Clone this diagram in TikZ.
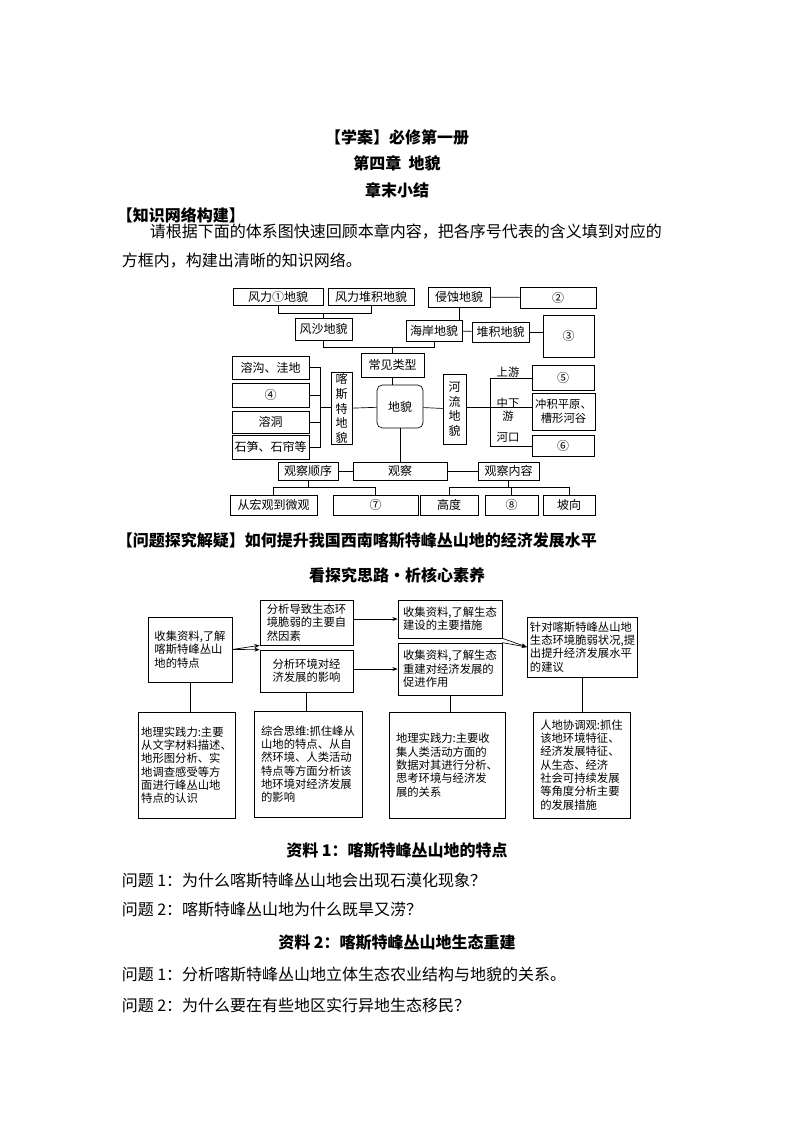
\documentclass[tikz,border=0pt]{standalone}
\usepackage{fontspec}
\setmainfont{Noto Sans CJK SC}
\usetikzlibrary{arrows.meta}
\newcommand\bx[7][]{\node[box,#1,minimum width={(#5-#3)*0.75pt},minimum height={(#6-#4)*0.75pt}] (#2) at ({(#3+#5)/2},{(#4+#6)/2}) {#7};}
\begin{document}
\begin{tikzpicture}[x=0.75pt,y=-0.75pt,
 box/.style={draw,inner sep=1pt,align=center,font=\fontsize{9}{11}\selectfont},
 tb/.style={box,align=left,anchor=center,font=\fontsize{8.5}{10}\selectfont,inner sep=2pt},
 ln/.style={line width=0.5pt},
 ar/.style={ln,-{Stealth[length=4pt,width=3pt]}},
 every node/.append style={line width=0.5pt},
 body/.style={anchor=west,font=\fontsize{12}{14}\selectfont},
 ttl/.style={font=\fontsize{12}{14}\selectfont\bfseries}]
\useasboundingbox (0,0) rectangle (794,1123);
% titles
\node[ttl] (t1) at (397,137) {【学案】必修第一册};
\node[ttl] (t2) at (397,163) {第四章\ \ 地貌};
\node[ttl] (t3) at (397,190) {章末小结};
\node[ttl,anchor=west] (t4) at (112,215) {【知识网络构建】};
\node[body] (p1) at (145,232) {请根据下面的体系图快速回顾本章内容，把各序号代表的含义填到对应的};
\node[body] (p2) at (117,261) {方框内，构建出清晰的知识网络。};
% diagram 1
\bx{f1}{233}{288}{323}{305}{风力①地貌}
\bx{f2}{328}{288}{414}{305}{风力堆积地貌}
\bx{qs}{428}{287}{490}{307}{侵蚀地貌}
\bx{n2}{520}{287}{596}{308}{②}
\bx{fs}{295}{318}{352}{340}{风沙地貌}
\bx{ha}{406}{320}{462}{341}{海岸地貌}
\bx{dj}{472}{322}{529}{342}{堆积地貌}
\bx{n3}{543}{315}{594}{357}{③}
\bx{cj}{361}{353}{424}{377}{常见类型}
\bx[rounded corners=4pt]{dm}{377}{385}{423}{428}{地貌}
\bx{ks}{331}{373}{352}{444}{喀\\斯\\特\\地\\貌}
\bx{hl}{443}{374}{466}{444}{河\\流\\地\\貌}
\bx{rg}{232}{356}{309}{379}{溶沟、洼地}
\bx{n4}{232}{383}{309}{407}{④}
\bx{rd}{232}{411}{309}{433}{溶洞}
\bx{ss}{232}{435}{309}{459}{石笋、石帘等}
\bx{n5}{532}{365}{594}{390}{⑤}
\bx[font=\fontsize{8.5}{10.5}\selectfont]{cp}{532}{393}{595}{430}{冲积平原、\\槽形河谷}
\bx{n6}{532}{435}{594}{456}{⑥}
\bx{gc}{353}{462}{447}{480}{观察}
\bx{gs}{278}{462}{338}{480}{观察顺序}
\bx{gn}{478}{462}{539}{480}{观察内容}
\bx{hg}{230}{495}{317}{515}{从宏观到微观}
\bx{n7}{333}{495}{418}{515}{⑦}
\bx{gd}{420}{495}{478}{515}{高度}
\bx{n8}{485}{495}{538}{515}{⑧}
\bx{px}{543}{495}{595}{515}{坡向}
\draw[ln] (f1.south) -- ++(0,8) -| (f2.south);
\draw[ln] (fs.north) -- ++(0,-5);
\draw[ln] (qs) -- (n2);
\draw[ln] (qs.south) -- (ha.north-|qs.south);
\draw[ln] (ha) -- (dj);
\draw[ln] (dj) -- (dj-|n3.west);
\draw[ln] (fs.south) -- ++(0,7) -| (ha.south);
\draw[ln] (cj.north) -- ++(0,-6);
\draw[ln] (cj.south) -- (dm.north-|cj.south);
\draw[ln] (dm) -- (ks);
\draw[ln] (dm) -- (hl);
\coordinate (lb) at (320,407);
\draw[ln] (ks.west|-lb) -- (lb);
\draw[ln] (rg.east) -| (lb);
\draw[ln] (ss.east) -| (lb);
\draw[ln] (n4.east) -- (n4.east-|lb);
\draw[ln] (rd.east) -- (rd.east-|lb);
\coordinate (rb) at (490,407);
\draw[ln] (hl.east|-rb) -- (rb);
\draw[ln] (rb) |- (532,378);
\draw[ln] (rb) |- (532,446);
\draw[ln] (rb) -- (cp.west|-rb);
\node[font=\fontsize{8.5}{10}\selectfont] (sy) at (508,372) {上游};
\node[font=\fontsize{8.5}{10}\selectfont,align=center] (zx) at (508,410) {中下\\游};
\node[font=\fontsize{8.5}{10}\selectfont] (hk) at (508,437) {河口};
\draw[ln] (dm.south) -- (gc.north-|dm.south);
\draw[ln] (gs) -- (gc);
\draw[ln] (gc) -- (gn);
\draw[ln] (gs.south) -- ++(0,7) coordinate (gsb);
\draw[ln] (hg.north|-gsb) -- (n7.north|-gsb);
\draw[ln] (hg.north|-gsb) -- (hg.north);
\draw[ln] (n7.north|-gsb) -- (n7.north);
\draw[ln] (gn.south) -- ++(0,7) coordinate (gnb);
\draw[ln] (gd.north|-gnb) -- (px.north|-gnb);
\draw[ln] (gd.north|-gnb) -- (gd.north);
\draw[ln] (n8.north|-gnb) -- (n8.north);
\draw[ln] (px.north|-gnb) -- (px.north);
% section 2
\node[ttl,anchor=west] (t5) at (112,541) {【问题探究解疑】如何提升我国西南喀斯特峰丛山地的经济发展水平};
\node[ttl] (t6) at (397,575) {看探究思路·析核心素养};
\bx[tb]{A}{148}{617}{232}{682}{收集资料,了解\\喀斯特峰丛山\\地的特点}
\bx[tb]{B}{260}{600}{353}{645}{分析导致生态环\\境脆弱的主要自\\然因素}
\bx[tb,align=center]{C}{260}{650}{353}{692}{分析环境对经\\济发展的影响}
\bx[tb]{D}{398}{600}{502}{638}{收集资料,了解生态\\建设的主要措施}
\bx[tb]{E}{398}{643}{502}{695}{收集资料,了解生态\\重建对经济发展的\\促进作用}
\bx[tb]{F}{535}{617}{630}{677}{针对喀斯特峰丛山地\\生态环境脆弱状况,提\\出提升经济发展水平\\的建议}
\bx[tb]{G}{138}{712}{235}{818}{地理实践力:主要\\从文字材料描述、\\地形图分析、实\\地调查感受等方\\面进行峰丛山地\\特点的认识}
\bx[tb]{H}{254}{711}{362}{817}{综合思维:抓住峰从\\山地的特点、从自\\然环境、人类活动\\特点等方面分析该\\地环境对经济发展\\的影响}
\bx[tb]{I}{389}{712}{505}{818}{地理实践力:主要收\\集人类活动方面的\\数据对其进行分析、\\思考环境与经济发\\展的关系}
\bx[tb]{J}{533}{712}{630}{818}{人地协调观:抓住\\该地环境特征、\\经济发展特征、\\从生态、经济\\社会可持续发展\\等角度分析主要\\的发展措施}
\draw[ar] (A.east) -- (B.south west);
\draw[ar] (A.east) -- (C.north west);
\draw[ar] (B.east|-D) -- (D.west);
\draw[ar] (C.east|-E) -- (E.west);
\draw[ar] (D.south east) -- (F.west);
\draw[ar] (E.north east) -- (F.west);
\draw[ln] (A.south) -- (A.south|-G.north);
\draw[ln] (C.south) -- (C.south|-H.north);
\draw[ln] (E.south) -- (E.south|-I.north);
\draw[ln] (F.south) -- (F.south|-J.north);
% questions
\node[ttl] (m1) at (397,851) {资料 1：喀斯特峰丛山地的特点};
\node[body] (q1) at (117,880) {问题 1：为什么喀斯特峰丛山地会出现石漠化现象？};
\node[body] (q2) at (117,910) {问题 2：喀斯特峰丛山地为什么既旱又涝？};
\node[ttl] (m2) at (397,943) {资料 2：喀斯特峰丛山地生态重建};
\node[body] (q3) at (117,974) {问题 1：分析喀斯特峰丛山地立体生态农业结构与地貌的关系。};
\node[body] (q4) at (117,1005) {问题 2：为什么要在有些地区实行异地生态移民？};
\end{tikzpicture}
\end{document}
